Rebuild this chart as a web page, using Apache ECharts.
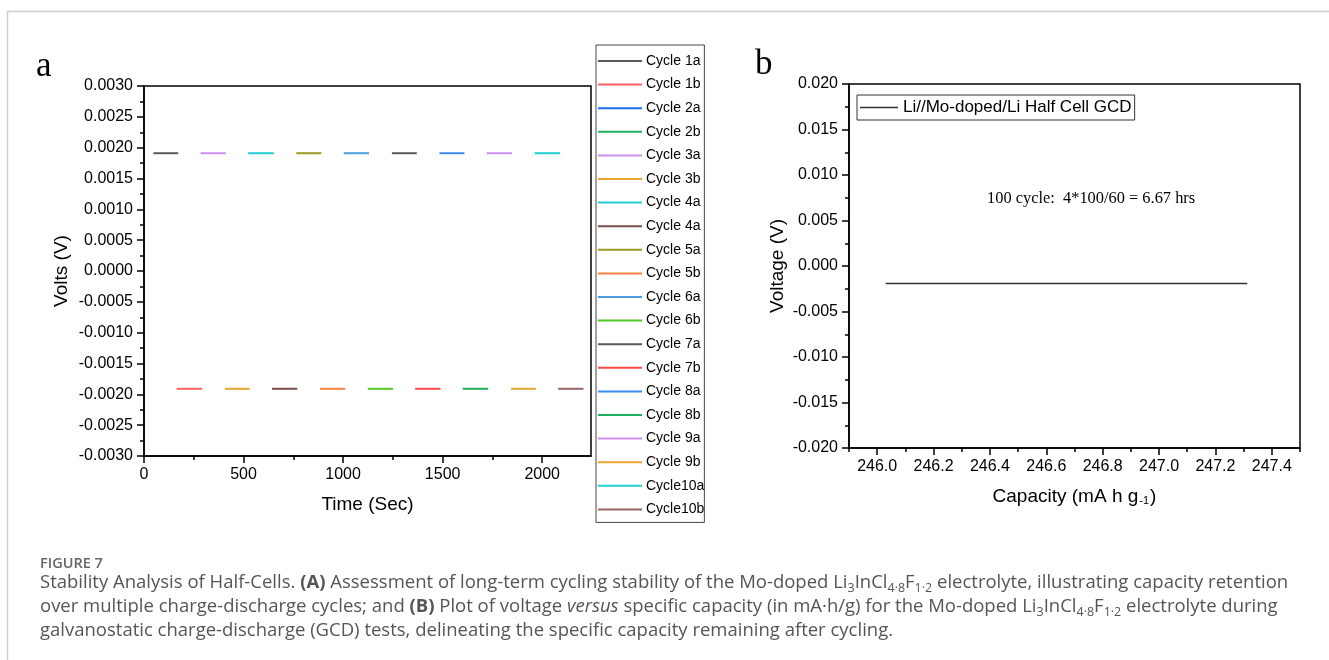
<!DOCTYPE html>
<html>
<head>
<meta charset="utf-8">
<script src="https://cdn.jsdelivr.net/npm/echarts@6/dist/echarts.min.js"></script>
<style>
  html, body { margin: 0; padding: 0; background: #fff; }
  #chart { width: 1329px; height: 660px; }
</style>
</head>
<body>
<div id="chart"></div>
<script>
// panel a: one flat segment per cycle half (time in s, volts)
const cycleNames = ["Cycle 1a", "Cycle 1b", "Cycle 2a", "Cycle 2b", "Cycle 3a", "Cycle 3b", "Cycle 4a", "Cycle 4a",
  "Cycle 5a", "Cycle 5b", "Cycle 6a", "Cycle 6b", "Cycle 7a", "Cycle 7b", "Cycle 8a", "Cycle 8b",
  "Cycle 9a", "Cycle 9b", "Cycle10a", "Cycle10b"];
const segStart = [47, 164, null, null, 284, 406, 523, 643, 765, 884, 1003, 1124, 1245, 1362, 1484, 1601, 1721, 1843, 1962, 2080];
const segEnd = [172, 292, null, null, 411, 531, 652, 770, 891, 1011, 1130, 1251, 1370, 1489, 1609, 1729, 1848, 1968, 2090, 2207];
const segVolts = [0.00191, -0.00191, null, null, 0.00191, -0.00191, 0.00191, -0.00191, 0.00191, -0.00191,
  0.00191, -0.00191, 0.00191, -0.00191, 0.00191, -0.00191, 0.00191, -0.00191, 0.00191, -0.00191];
const timeMajorTicks = [0, 500, 1000, 1500, 2000];
const timeMinorTicks = [250, 750, 1250, 1750];

// panel b
const capacity = [246.03, 247.313];
const gcdVolts = [-0.00193, -0.00193];
const capMajorTicks = [246.0, 246.2, 246.4, 246.6, 246.8, 247.0, 247.2, 247.4];
const capMinorTicks = [245.9, 246.1, 246.3, 246.5, 246.7, 246.9, 247.1, 247.3, 247.5];

const cycleColors = ["#5a5a5a", "#ff6060", "#1a6cf0", "#1fae5e", "#cc8ff0", "#e6a72a", "#22cfd6", "#7a4c4c",
  "#9a9a22", "#ff8040", "#4a9ee0", "#55c825", "#5a5a5a", "#ff4848", "#3a8cf0", "#1fae5e",
  "#cc8ff0", "#e6a72a", "#22cfd6", "#9a6464"];

const FONT = "'Liberation Sans', Arial, sans-serif";
const AX = { color: "#000", width: 1.5 };

// duplicate legend names need distinct series names
const seriesNames = cycleNames.map((n, i) => cycleNames.indexOf(n) === i ? n : n + " ");

const chart = echarts.init(document.getElementById("chart"));

const series = cycleNames.map((n, i) => ({
  name: seriesNames[i],
  type: "line",
  xAxisIndex: 0,
  yAxisIndex: 0,
  symbol: "none",
  silent: true,
  color: cycleColors[i],
  lineStyle: { width: 2, color: cycleColors[i] },
  data: segStart[i] == null ? [] : [[segStart[i], segVolts[i]], [segEnd[i], segVolts[i]]]
}));

series.push({
  name: "Li//Mo-doped/Li Half Cell GCD",
  type: "line",
  xAxisIndex: 2,
  yAxisIndex: 1,
  symbol: "none",
  silent: true,
  color: "#333",
  lineStyle: { width: 1.5, color: "#333" },
  data: capacity.map((c, i) => [c, gcdVolts[i]])
});

const fmt = d => v => (Math.abs(v) < 1e-12 ? 0 : v).toFixed(d);

// hidden axis that only draws the short minor ticks
const minorAxis = (grid, min, max, ticks) => ({
  type: "value", gridIndex: grid, min: min, max: max, position: "bottom",
  axisLine: { show: false, onZero: false },
  axisTick: { show: true, length: 4, lineStyle: AX, customValues: ticks },
  axisLabel: { show: false },
  splitLine: { show: false }
});

const option = {
  animation: false,
  backgroundColor: "#fff",
  textStyle: { fontFamily: FONT },
  grid: [
    { left: 144, top: 86, width: 447, height: 370, show: true, borderColor: "#000", borderWidth: 1.5 },
    { left: 849, top: 84, width: 451, height: 364, show: true, borderColor: "#000", borderWidth: 1.5 }
  ],
  xAxis: [
    {
      type: "value", gridIndex: 0, min: 0, max: 2245, position: "bottom",
      name: "Time (Sec)", nameLocation: "middle", nameGap: 39,
      nameTextStyle: { fontSize: 19, color: "#000", fontFamily: FONT },
      axisLine: { show: true, onZero: false, lineStyle: AX },
      axisTick: { show: true, length: 7, lineStyle: AX, customValues: timeMajorTicks },
      axisLabel: { fontSize: 16, color: "#000", margin: 11, customValues: timeMajorTicks, formatter: v => String(v) },
      splitLine: { show: false }
    },
    minorAxis(0, 0, 2245, timeMinorTicks),
    {
      type: "value", gridIndex: 1, min: 245.9, max: 247.5, position: "bottom",
      name: "Capacity (mA h g{s|-1})", nameLocation: "middle", nameGap: 39,
      nameTextStyle: { fontSize: 19, color: "#000", fontFamily: FONT,
        rich: { s: { fontSize: 11, verticalAlign: "bottom", lineHeight: 14, padding: [0, 1, 0, 1] } } },
      axisLine: { show: true, onZero: false, lineStyle: AX },
      axisTick: { show: true, length: 7, lineStyle: AX, customValues: capMajorTicks },
      axisLabel: { fontSize: 16, color: "#000", margin: 11, customValues: capMajorTicks, formatter: fmt(1) },
      splitLine: { show: false }
    },
    minorAxis(1, 245.9, 247.5, capMinorTicks)
  ],
  yAxis: [
    {
      type: "value", gridIndex: 0, min: -0.003, max: 0.003, interval: 0.0005,
      name: "Volts (V)", nameLocation: "middle", nameGap: 73,
      nameTextStyle: { fontSize: 19, color: "#000", fontFamily: FONT },
      axisLine: { show: true, onZero: false, lineStyle: AX },
      axisTick: { show: true, length: 7, lineStyle: AX },
      minorTick: { show: true, splitNumber: 2, length: 4, lineStyle: AX },
      axisLabel: { fontSize: 16, color: "#000", margin: 11, formatter: fmt(4) },
      splitLine: { show: false }
    },
    {
      type: "value", gridIndex: 1, min: -0.02, max: 0.02, interval: 0.005,
      name: "Voltage (V)", nameLocation: "middle", nameGap: 62,
      nameTextStyle: { fontSize: 19, color: "#000", fontFamily: FONT },
      axisLine: { show: true, onZero: false, lineStyle: AX },
      axisTick: { show: true, length: 7, lineStyle: AX },
      minorTick: { show: true, splitNumber: 2, length: 4, lineStyle: AX },
      axisLabel: { fontSize: 16, color: "#000", margin: 11, formatter: fmt(3) },
      splitLine: { show: false }
    }
  ],
  legend: [
    {
      data: seriesNames,
      orient: "vertical", left: 596, top: 45,
      padding: [9, 0, 6, 2],
      itemWidth: 44, itemHeight: 14, itemGap: 9.6,
      icon: "path://M0,0H44V2H0Z",
      borderColor: "#444", borderWidth: 1,
      selectedMode: false,
      formatter: n => n.trim(),
      textStyle: { fontSize: 14, color: "#000", fontFamily: FONT, padding: [0, 0, 0, -1] }
    },
    {
      data: ["Li//Mo-doped/Li Half Cell GCD"],
      left: 857, top: 95,
      padding: [4, 3, 4, 3],
      itemWidth: 38, itemHeight: 14,
      icon: "path://M0,0H38V1.5H0Z",
      borderColor: "#333", borderWidth: 1,
      selectedMode: false,
      textStyle: { fontSize: 17, color: "#000", fontFamily: FONT }
    }
  ],
  graphic: [
    { type: "line", shape: { x1: 7.5, y1: 11, x2: 7.5, y2: 660 }, style: { stroke: "#cfcfcf", lineWidth: 1.5 } },
    { type: "line", shape: { x1: 7, y1: 11.5, x2: 1329, y2: 11.5 }, style: { stroke: "#cfcfcf", lineWidth: 1.5 } },
    { type: "text", left: 36, top: 49, style: { text: "a", font: "35px 'Liberation Serif', 'Times New Roman', serif", fill: "#000" } },
    { type: "text", left: 755, top: 47, style: { text: "b", font: "35px 'Liberation Serif', 'Times New Roman', serif", fill: "#000" } },
    { type: "text", left: 987, top: 191, style: { text: "100 cycle:  4*100/60 = 6.67 hrs", font: "16.4px 'Liberation Serif', 'Times New Roman', serif", fill: "#000" } },
    { type: "text", left: 40, top: 556, style: { text: "FIGURE 7", font: "600 14.5px 'Open Sans', sans-serif", fill: "#666" } },
    {
      type: "text", left: 40, top: 571,
      style: {
        text: [
          "Stability Analysis of Half-Cells. {b|(A)} Assessment of long-term cycling stability of the Mo-doped Li{s|3}InCl{s|4·8}F{s|1·2} electrolyte, illustrating capacity retention",
          "over multiple charge-discharge cycles; and {b|(B)} Plot of voltage {i|versus} specific capacity (in mA·h/g) for the Mo-doped Li{s|3}InCl{s|4·8}F{s|1·2} electrolyte during",
          "galvanostatic charge-discharge (GCD) tests, delineating the specific capacity remaining after cycling."
        ].join("\n"),
        font: "18.5px 'Open Sans', sans-serif",
        fill: "#555",
        lineHeight: 24,
        rich: {
          b: { fontWeight: "bold", fontFamily: "'Open Sans', sans-serif", fontSize: 18.5, fill: "#555", lineHeight: 24 },
          i: { fontStyle: "italic", fontFamily: "'Open Sans', sans-serif", fontSize: 18.5, fill: "#555", lineHeight: 24 },
          s: { fontFamily: "'Open Sans', sans-serif", fontSize: 12.5, fill: "#555", lineHeight: 18, verticalAlign: "bottom" }
        }
      }
    }
  ],
  series: series
};

chart.setOption(option);
</script>
</body>
</html>
